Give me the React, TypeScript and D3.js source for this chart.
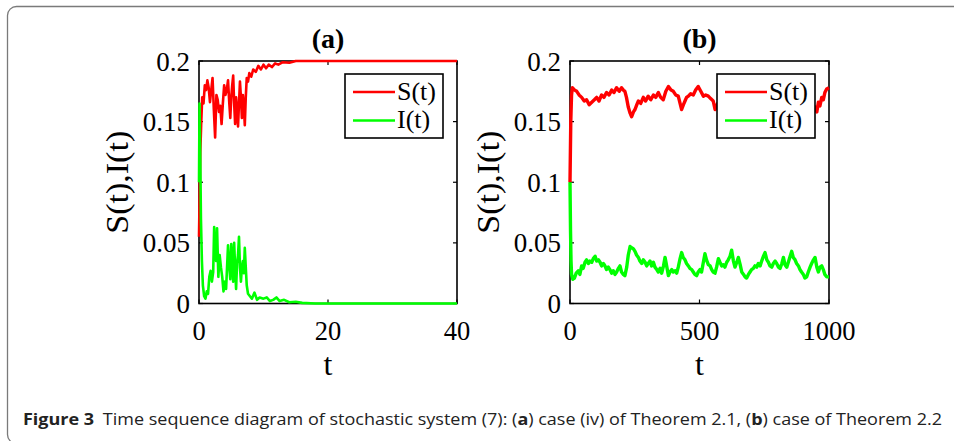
import React, { useEffect, useRef } from 'react';
import * as d3 from 'd3';

// panel (a): t in [0, 40]
const sA: [number, number][] = [
  [0, 0.055], [0.1, 0.09], [0.2, 0.125], [0.35, 0.15], [0.5, 0.17], [0.7, 0.165], [0.9, 0.18], [1.1, 0.176],
  [1.3, 0.184], [1.5, 0.178], [1.7, 0.166], [1.9, 0.176], [2.1, 0.186], [2.3, 0.16], [2.5, 0.137], [2.7, 0.172],
  [2.9, 0.168], [3.1, 0.158], [3.3, 0.163], [3.5, 0.148], [3.7, 0.165], [3.9, 0.18], [4.1, 0.172], [4.3, 0.176],
  [4.5, 0.184], [4.7, 0.165], [4.85, 0.153], [5.0, 0.17], [5.15, 0.18], [5.3, 0.188], [5.45, 0.165], [5.6, 0.148],
  [5.75, 0.17], [5.9, 0.16], [6.05, 0.146], [6.2, 0.165], [6.35, 0.183], [6.5, 0.17], [6.65, 0.153], [6.8, 0.172],
  [6.95, 0.163], [7.1, 0.147], [7.25, 0.17], [7.4, 0.186], [7.6, 0.183], [7.8, 0.19], [8.1, 0.187], [8.4, 0.193],
  [8.8, 0.191], [9.2, 0.196], [9.6, 0.193], [10.0, 0.197], [10.4, 0.194], [10.8, 0.197], [11.3, 0.195], [11.8, 0.198],
  [12.3, 0.197], [13, 0.199], [14, 0.1985], [15, 0.2], [20, 0.2], [40, 0.2],
];
const iA: [number, number][] = [
  [0, 0.1], [0.08, 0.165], [0.2, 0.12], [0.3, 0.07], [0.45, 0.035], [0.6, 0.015], [0.8, 0.006], [1.0, 0.004],
  [1.2, 0.01], [1.4, 0.008], [1.6, 0.022], [1.8, 0.027], [2.0, 0.018], [2.2, 0.026], [2.35, 0.063], [2.5, 0.04],
  [2.65, 0.035], [2.8, 0.062], [3.0, 0.022], [3.2, 0.04], [3.4, 0.03], [3.6, 0.022], [3.8, 0.01], [4.0, 0.018],
  [4.2, 0.012], [4.35, 0.03], [4.5, 0.048], [4.7, 0.03], [4.85, 0.02], [5.0, 0.049], [5.15, 0.035], [5.3, 0.018],
  [5.45, 0.05], [5.6, 0.03], [5.75, 0.012], [5.9, 0.033], [6.05, 0.04], [6.2, 0.055], [6.35, 0.03], [6.5, 0.018],
  [6.65, 0.03], [6.8, 0.035], [6.95, 0.025], [7.1, 0.046], [7.25, 0.03], [7.4, 0.015], [7.6, 0.008], [7.9, 0.006],
  [8.2, 0.004], [8.6, 0.009], [9.0, 0.003], [9.4, 0.005], [10, 0.004], [10.5, 0.005], [11, 0.002], [11.5, 0.003],
  [12, 0.005], [12.5, 0.002], [13.2, 0.003], [14, 0.001], [15, 0.0015], [16, 0.0005], [18, 0], [40, 0],
];

// panel (b): t in [0, 1000]
const sB: [number, number][] = [
  [0, 0.1], [3, 0.15], [6, 0.172], [9, 0.178], [18, 0.176], [26, 0.175], [35, 0.172], [45, 0.17], [55, 0.167],
  [64, 0.168], [74, 0.164], [84, 0.166], [94, 0.168], [103, 0.17], [112, 0.167], [122, 0.172], [131, 0.17],
  [141, 0.174], [151, 0.172], [161, 0.176], [170, 0.174], [180, 0.178], [190, 0.175], [199, 0.178], [206, 0.176],
  [212, 0.175], [218, 0.17], [225, 0.162], [232, 0.157], [238, 0.154], [245, 0.158], [251, 0.16], [258, 0.164],
  [264, 0.167], [273, 0.165], [283, 0.17], [292, 0.167], [302, 0.171], [312, 0.168], [322, 0.172], [331, 0.17],
  [341, 0.174], [350, 0.17], [360, 0.168], [370, 0.175], [380, 0.179], [390, 0.176], [399, 0.175], [408, 0.172],
  [418, 0.171], [425, 0.165], [431, 0.16], [438, 0.164], [444, 0.167], [450, 0.17], [457, 0.171], [466, 0.173],
  [476, 0.172], [485, 0.176], [495, 0.179], [505, 0.175], [515, 0.171], [524, 0.172], [534, 0.171], [543, 0.169],
  [553, 0.167], [560, 0.16], [570, 0.165], [590, 0.17], [610, 0.168], [630, 0.173], [650, 0.17], [670, 0.166],
  [690, 0.171], [710, 0.174], [730, 0.169], [750, 0.167], [770, 0.172], [790, 0.17], [810, 0.175], [830, 0.171],
  [850, 0.168], [870, 0.173], [890, 0.17], [910, 0.166], [930, 0.164], [946, 0.162], [953, 0.158], [959, 0.166],
  [965, 0.163], [972, 0.17], [978, 0.168], [984, 0.174], [991, 0.177], [1000, 0.178],
];
const iB: [number, number][] = [
  [0, 0.1], [2, 0.06], [4, 0.035], [6, 0.024], [11, 0.02], [17, 0.021], [24, 0.025], [32, 0.027], [38, 0.024],
  [45, 0.031], [51, 0.029], [58, 0.034], [64, 0.036], [71, 0.033], [77, 0.035], [84, 0.034], [90, 0.037],
  [97, 0.039], [103, 0.035], [110, 0.036], [116, 0.034], [122, 0.031], [129, 0.033], [135, 0.031], [141, 0.028],
  [148, 0.03], [154, 0.028], [161, 0.025], [167, 0.027], [174, 0.024], [180, 0.026], [187, 0.029], [193, 0.031],
  [199, 0.026], [206, 0.024], [212, 0.023], [219, 0.03], [225, 0.04], [232, 0.047], [238, 0.046], [245, 0.045],
  [251, 0.043], [257, 0.04], [264, 0.038], [270, 0.035], [277, 0.033], [283, 0.036], [290, 0.034], [296, 0.031],
  [302, 0.033], [309, 0.035], [315, 0.031], [322, 0.034], [328, 0.03], [335, 0.028], [341, 0.026], [348, 0.029],
  [354, 0.025], [361, 0.031], [367, 0.038], [374, 0.03], [380, 0.023], [386, 0.026], [393, 0.028], [399, 0.026],
  [406, 0.027], [412, 0.025], [418, 0.03], [425, 0.037], [431, 0.042], [437, 0.038], [444, 0.036], [450, 0.033],
  [457, 0.031], [463, 0.029], [470, 0.028], [476, 0.026], [482, 0.024], [489, 0.023], [495, 0.026], [502, 0.028],
  [508, 0.026], [514, 0.033], [521, 0.041], [527, 0.036], [534, 0.032], [541, 0.031], [547, 0.028], [553, 0.026],
  [560, 0.025], [566, 0.03], [573, 0.037], [579, 0.034], [586, 0.031], [592, 0.032], [598, 0.03], [605, 0.034],
  [611, 0.036], [618, 0.039], [624, 0.044], [631, 0.035], [637, 0.03], [644, 0.034], [650, 0.038], [657, 0.032],
  [663, 0.026], [670, 0.024], [676, 0.022], [682, 0.021], [689, 0.024], [695, 0.026], [701, 0.028], [708, 0.029],
  [714, 0.031], [721, 0.03], [727, 0.033], [734, 0.031], [740, 0.035], [747, 0.039], [753, 0.042], [760, 0.036],
  [766, 0.034], [772, 0.031], [779, 0.03], [785, 0.033], [792, 0.035], [798, 0.033], [805, 0.03], [811, 0.029],
  [818, 0.033], [824, 0.038], [830, 0.032], [837, 0.03], [843, 0.034], [850, 0.039], [856, 0.043], [862, 0.038],
  [869, 0.036], [875, 0.033], [882, 0.031], [888, 0.028], [894, 0.026], [901, 0.024], [907, 0.021], [914, 0.022],
  [920, 0.026], [927, 0.03], [933, 0.033], [940, 0.036], [946, 0.038], [953, 0.03], [959, 0.026], [965, 0.03],
  [972, 0.031], [978, 0.028], [984, 0.024], [991, 0.022], [1000, 0.022],
];

const yTicks = [0, 0.05, 0.1, 0.15, 0.2];
const yTickLabels = ['0', '0.05', '0.1', '0.15', '0.2'];
const xTicksA = [0, 20, 40];
const xTicksB = [0, 500, 1000];
const legendNames = ['S(t)', 'I(t)'];
const seriesColors = ['#ff0000', '#00ff00'];

const serif = "'Liberation Serif', 'Times New Roman', serif";

const App = () => {
  const svgRef = useRef<SVGSVGElement>(null);

  useEffect(() => {
    const svg = d3.select(svgRef.current).html('');
    const W = 954, H = 441;
    svg.attr('width', W).attr('height', H).attr('viewBox', `0 0 ${W} ${H}`);

    svg.append('rect').attr('width', W).attr('height', H).attr('fill', '#fff');

    // frame around figure
    svg.append('rect')
      .attr('x', 7.5).attr('y', 6.5)
      .attr('width', 980).attr('height', 437)
      .attr('rx', 9)
      .attr('fill', 'none')
      .attr('stroke', '#7a7a7a')
      .attr('stroke-width', 1.3);

    const panels = [
      { left: 199, right: 457, title: '(a)', dom: [0, 40], ticks: xTicksA, s: sA, i: iA, lw: 2.6, legX: 345 },
      { left: 570, right: 829, title: '(b)', dom: [0, 1000], ticks: xTicksB, s: sB, i: iB, lw: 3.4, legX: 717 },
    ];
    const top = 61, bottom = 303.5;

    panels.forEach((p) => {
      const x = d3.scaleLinear().domain(p.dom).range([p.left, p.right]);
      const y = d3.scaleLinear().domain([0, 0.2]).range([bottom, top]);
      const g = svg.append('g');
      const cx = (p.left + p.right) / 2;

      g.append('text')
        .attr('x', cx).attr('y', 48)
        .attr('text-anchor', 'middle')
        .style('font-family', serif).style('font-size', '28px').style('font-weight', 'bold')
        .text(p.title);

      // y ticks
      yTicks.forEach((v, k) => {
        g.append('line').attr('x1', p.left).attr('x2', p.left + 4).attr('y1', y(v)).attr('y2', y(v))
          .attr('stroke', '#000').attr('stroke-width', 1.2);
        g.append('line').attr('x1', p.right).attr('x2', p.right - 4).attr('y1', y(v)).attr('y2', y(v))
          .attr('stroke', '#000').attr('stroke-width', 1.2);
        g.append('text')
          .attr('x', p.left - 9).attr('y', y(v) + 9.5)
          .attr('text-anchor', 'end')
          .style('font-family', serif).style('font-size', '27px')
          .text(yTickLabels[k]);
      });
      // x ticks
      p.ticks.forEach((v) => {
        g.append('line').attr('x1', x(v)).attr('x2', x(v)).attr('y1', bottom).attr('y2', bottom - 4)
          .attr('stroke', '#000').attr('stroke-width', 1.2);
        g.append('line').attr('x1', x(v)).attr('x2', x(v)).attr('y1', top).attr('y2', top + 4)
          .attr('stroke', '#000').attr('stroke-width', 1.2);
        g.append('text')
          .attr('x', x(v)).attr('y', bottom + 36)
          .attr('text-anchor', 'middle')
          .style('font-family', serif).style('font-size', '26.5px')
          .text(String(v));
      });

      g.append('rect')
        .attr('x', p.left).attr('y', top)
        .attr('width', p.right - p.left).attr('height', bottom - top)
        .attr('fill', 'none').attr('stroke', '#000').attr('stroke-width', 1.6);

      // axis labels
      g.append('text')
        .attr('x', cx).attr('y', 375)
        .attr('text-anchor', 'middle')
        .style('font-family', serif).style('font-size', '32px')
        .text('t');
      g.append('text')
        .attr('transform', `translate(${p.left - 71},${(top + bottom) / 2}) rotate(-90)`)
        .attr('text-anchor', 'middle')
        .attr('textLength', 103).attr('lengthAdjust', 'spacingAndGlyphs')
        .style('font-family', serif).style('font-size', '31px')
        .text('S(t),I(t)');

      const line = d3.line<[number, number]>().x((d) => x(d[0])).y((d) => y(d[1]));
      [p.s, p.i].forEach((ser, k) => {
        g.append('path')
          .attr('d', line(ser))
          .attr('fill', 'none')
          .attr('stroke', seriesColors[k])
          .attr('stroke-width', p.lw)
          .attr('stroke-linejoin', 'round');
      });

      // legend
      const lg = g.append('g').attr('transform', `translate(${p.legX},74)`);
      lg.append('rect').attr('width', 98).attr('height', 64)
        .attr('fill', '#fff').attr('stroke', '#000').attr('stroke-width', 1.6);
      legendNames.forEach((name, k) => {
        const ly = 18 + k * 28.5;
        lg.append('line').attr('x1', 8).attr('x2', 50).attr('y1', ly).attr('y2', ly)
          .attr('stroke', seriesColors[k]).attr('stroke-width', 2.6);
        lg.append('text').attr('x', 52).attr('y', ly + 7.5)
          .style('font-family', serif).style('font-size', '26px')
          .text(name);
      });
    });

    // caption
    const cap = svg.append('text')
      .attr('x', 23).attr('y', 425)
      .attr('textLength', 919).attr('lengthAdjust', 'spacingAndGlyphs')
      .style('font-family', "'Open Sans', 'Noto Sans', sans-serif").style('font-size', '16.5px')
      .attr('fill', '#222');
    cap.append('tspan').style('font-weight', 'bold').text('Figure 3');
    cap.append('tspan').attr('dx', 8).text('Time sequence diagram of stochastic system (7): (');
    cap.append('tspan').style('font-weight', 'bold').text('a');
    cap.append('tspan').text(') case (iv) of Theorem 2.1, (');
    cap.append('tspan').style('font-weight', 'bold').text('b');
    cap.append('tspan').text(') case of Theorem 2.2');
  }, []);

  return <svg ref={svgRef} style={{ position: 'absolute', left: 0, top: 0, display: 'block' }} />;
};

export default App;
